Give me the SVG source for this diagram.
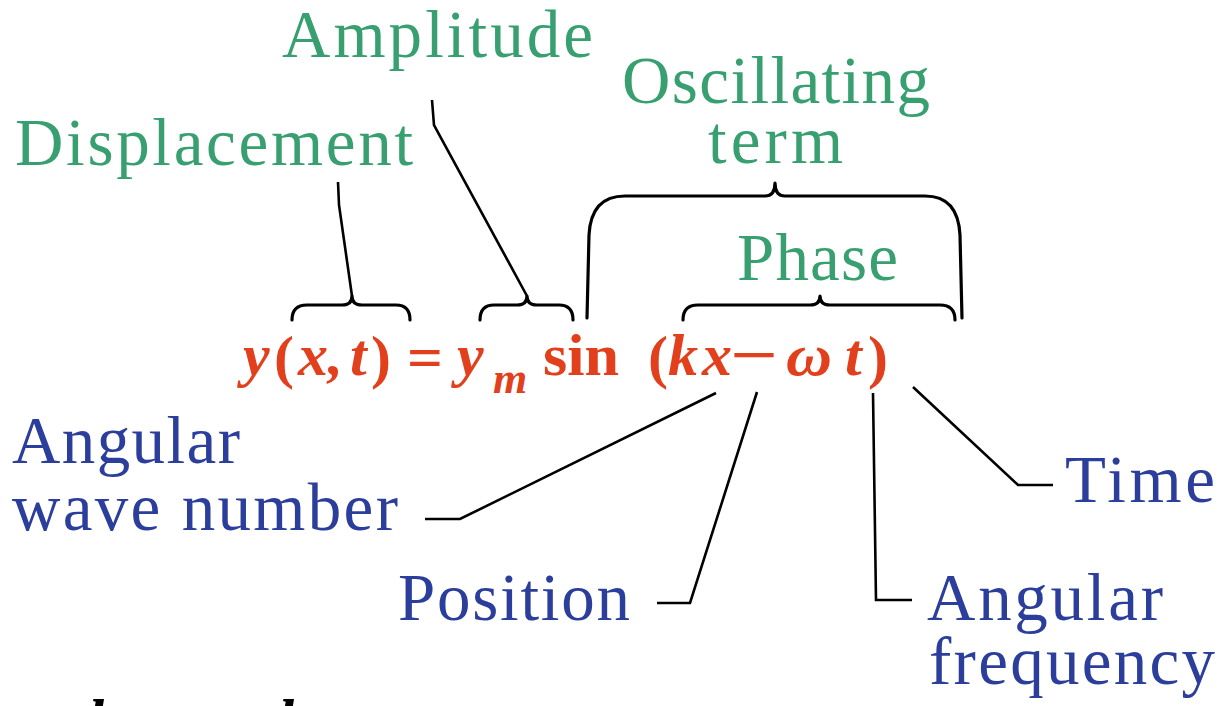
<svg xmlns="http://www.w3.org/2000/svg" width="1222" height="706" viewBox="0 0 1222 706">
<style>
.g{font-family:"Liberation Serif","DejaVu Serif",serif;font-size:67px;fill:#38a070}
.b{font-family:"Liberation Serif","DejaVu Serif",serif;font-size:67px;fill:#2c3e9c}
.eq{font-family:"Liberation Serif","DejaVu Serif",serif;font-size:60px;font-weight:bold;fill:#e2401c}
.it{font-style:italic}
.br{fill:none;stroke:#000;stroke-width:3.2;stroke-linejoin:round;stroke-linecap:round}
.ld{fill:none;stroke:#000;stroke-width:2.6;stroke-linejoin:miter}
.frag{font-family:"Liberation Serif",serif;font-size:60px;font-weight:bold;font-style:italic;fill:#000}
</style>
<rect width="1222" height="706" fill="#fff"/>
<g id="connectors">
<path class="br" d="M292,320 Q292,305 307,305 L342,305 Q352,305 352,296 Q352,305 362,305 L396,305 Q410,305 410,320"/>
<path class="br" d="M480,320 Q480,305 494,305 L517,305 Q527,305 527,296 Q527,305 537,305 L559,305 Q573,305 573,320"/>
<path class="br" d="M683,320 Q683,305 698,305 L810,305 Q820,305 820,296 Q820,305 830,305 L940,305 Q955,305 955,320"/>
<path class="br" d="M587,318 L589,235 Q591,196 625,196 L765,196 Q775,196 775,183 Q775,196 785,196 L925,196 Q958,196 960,235 L962,318"/>
<path class="ld" d="M338,182 L339,205 L352,296"/>
<path class="ld" d="M432,100 L434,125 L527,296"/>
<path class="ld" d="M716,393 L460,519 L425,519"/>
<path class="ld" d="M757,392 L690,603 L657,603"/>
<path class="ld" d="M873,393 L876,600 L912,600"/>
<path class="ld" d="M913,387 L1018,485 L1053,485"/>
</g>
<g id="equation">
<text class="eq it" x="243" y="375">y</text>
<text class="eq" x="274" y="377">(</text>
<text class="eq it" x="298" y="375">x,</text>
<text class="eq it" x="350" y="375">t</text>
<text class="eq" x="371" y="377">)</text>
<text class="eq" x="407" y="377" textLength="36" lengthAdjust="spacingAndGlyphs">=</text>
<text class="eq it" x="457" y="375">y</text>
<text class="eq it" x="493" y="393" style="font-size:44px">m</text>
<text class="eq" x="543" y="375" textLength="76" lengthAdjust="spacingAndGlyphs">sin</text>
<text class="eq" x="648" y="377">(</text>
<text class="eq it" x="668" y="375">k</text>
<text class="eq it" x="702" y="375">x</text>
<text class="eq" x="730" y="375" textLength="48" lengthAdjust="spacingAndGlyphs">−</text>
<text class="eq it" x="786" y="375" textLength="46" lengthAdjust="spacingAndGlyphs">ω</text>
<text class="eq it" x="845" y="375">t</text>
<text class="eq" x="868" y="377">)</text>
</g>
<g id="amplitude"><text class="g" x="282" y="57" textLength="311">Amplitude</text></g>
<g id="displacement"><text class="g" x="15" y="165" textLength="398">Displacement</text></g>
<g id="oscillating-term">
<text class="g" x="622" y="103" textLength="308">Oscillating</text>
<text class="g" x="708" y="163" textLength="135">term</text>
</g>
<g id="phase"><text class="g" x="737" y="280" textLength="161">Phase</text></g>
<g id="angular-wave-number">
<text class="b" x="12" y="463" textLength="228">Angular</text>
<text class="b" x="12" y="530" textLength="386">wave number</text>
</g>
<g id="position"><text class="b" x="398" y="620" textLength="232">Position</text></g>
<g id="time"><text class="b" x="1065" y="502" textLength="150">Time</text></g>
<g id="angular-frequency">
<text class="b" x="927" y="620" textLength="236">Angular</text>
<text class="b" x="929" y="684" textLength="286">frequency</text>
</g>
<g id="cut-text">
<text class="frag" x="88" y="740">k</text>
<text class="frag" x="278" y="740">k</text>
</g>
</svg>
